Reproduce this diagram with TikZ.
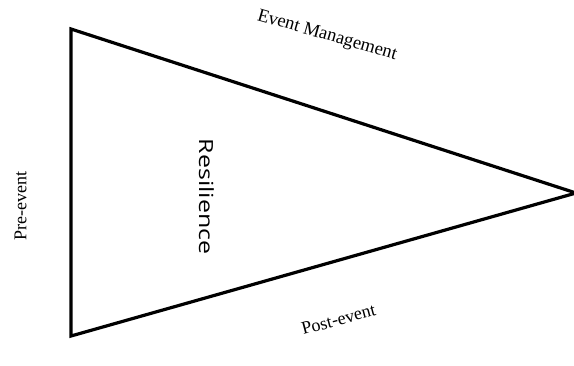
\documentclass[tikz,border=0pt]{standalone}
\usepackage{fontspec}
\setmainfont{Liberation Serif}
\newfontfamily\ressans{Open Sans}
\usetikzlibrary{positioning,calc}

\tikzset{
  edgelabel/.style={inner sep=0pt, font=\fontsize{18.5}{22}\selectfont},
  phase/.style={inner sep=0pt, font=\fontsize{18}{21}\selectfont}
}

\begin{document}
\begin{tikzpicture}[x=1pt,y=-1pt]
  \useasboundingbox (0,0) rectangle (574,365);

  % triangle
  \coordinate (tl) at (71,29);
  \coordinate (bl) at (71,336);
  \coordinate (tip) at (576,193);
  \draw[line width=3.2pt, line join=miter] (tl) -- (tip) -- (bl) -- cycle;

  \node[edgelabel, rotate=-16] (mgmt) at (327,36) {Event Management};
  \node[phase, rotate=15] (post) at (338.5,319.5) {Post-event};
  \node[phase, rotate=90] (pre) at (20.5,206) {Pre-event};
  \node[inner sep=0pt, rotate=-90, font=\ressans\fontsize{19.5}{23}\selectfont] (res) at (206.5,196.5) {\scalebox{1.28}[1]{Resilience}};
\end{tikzpicture}
\end{document}
